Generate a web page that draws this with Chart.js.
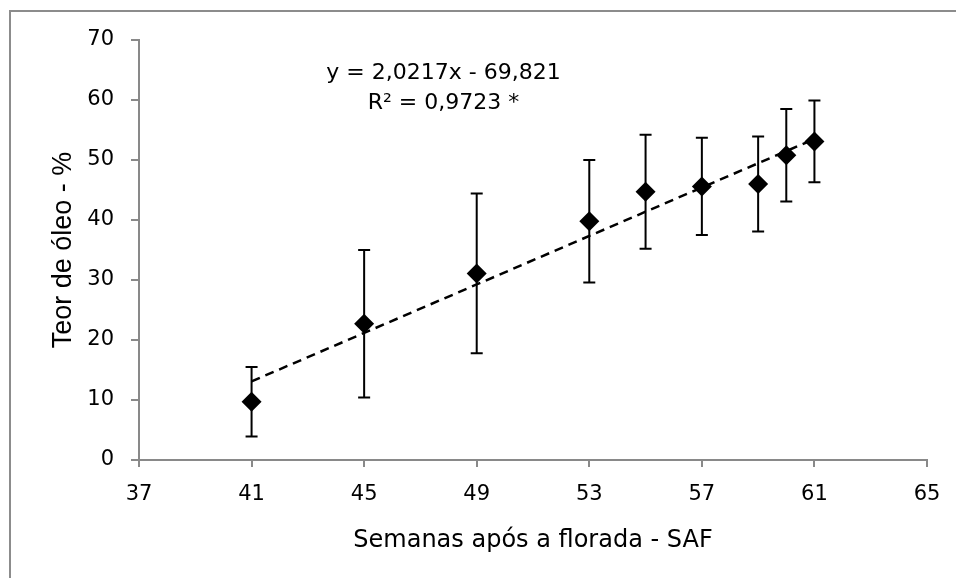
<!DOCTYPE html>
<html>
<head>
<meta charset="utf-8">
<script src="https://cdn.jsdelivr.net/npm/chart.js@4.4.1/dist/chart.umd.min.js"></script>
<style>
  html, body { margin: 0; padding: 0; background: #fff; overflow: hidden; }
  #wrap { position: relative; width: 956px; height: 578px; }
  #frame { position: absolute; left: 9px; top: 10px; width: 960px; height: 580px;
           border-left: 2px solid #8c8c8c; border-top: 2px solid #8c8c8c; }
  canvas { position: absolute; left: 0; top: 0; }
</style>
</head>
<body>
<div id="wrap">
  <div id="frame"></div>
  <canvas id="oleoChart" width="956" height="578"></canvas>
</div>
<script>
// Semanas após a florada (SAF) e teor de óleo medio (%)
const semanas = [41, 45, 49, 53, 55, 57, 59, 60, 61];
const teorOleo = [9.7, 22.7, 31.1, 39.8, 44.7, 45.6, 46.0, 50.8, 53.1];
const desvio = [5.8, 12.3, 13.3, 10.2, 9.5, 8.1, 7.9, 7.7, 6.8];

// Linha de tendencia (extremos)
const tendX = [41, 61];
const tendY = [13.1, 53.5];

// Ticks dos eixos
const xTicks = [37, 41, 45, 49, 53, 57, 61, 65];
const yTicks = [0, 10, 20, 30, 40, 50, 60, 70];

const equacao = ['y = 2,0217x - 69,821', 'R² = 0,9723 *'];

const cinza = '#898989';
const fonteTicks = { family: '"DejaVu Sans", sans-serif', size: 21 };

// Barras de erro desenhadas a partir das escalas do Chart.js
const barrasErro = {
  id: 'barrasErro',
  afterDatasetsDraw(chart) {
    const { ctx, scales: { x, y } } = chart;
    ctx.save();
    ctx.strokeStyle = '#000';
    ctx.lineWidth = 2;
    semanas.forEach((s, i) => {
      const px = x.getPixelForValue(s);
      const top = y.getPixelForValue(teorOleo[i] + desvio[i]);
      const bot = y.getPixelForValue(teorOleo[i] - desvio[i]);
      ctx.beginPath();
      ctx.moveTo(px, top); ctx.lineTo(px, bot);
      ctx.moveTo(px - 6, top); ctx.lineTo(px + 6, top);
      ctx.moveTo(px - 6, bot); ctx.lineTo(px + 6, bot);
      ctx.stroke();
    });
    ctx.restore();
  }
};

// Equacao da regressao
const textoEquacao = {
  id: 'textoEquacao',
  afterDraw(chart) {
    const { ctx, scales: { x, y } } = chart;
    ctx.save();
    ctx.fillStyle = '#000';
    ctx.font = '22px "DejaVu Sans", sans-serif';
    ctx.textAlign = 'center';
    ctx.textBaseline = 'middle';
    ctx.fillText(equacao[0], x.getPixelForValue(47.82), y.getPixelForValue(64.5));
    ctx.fillText(equacao[1], x.getPixelForValue(47.82), y.getPixelForValue(59.5));
    ctx.restore();
  }
};

const ctx = document.getElementById('oleoChart').getContext('2d');
new Chart(ctx, {
  type: 'scatter',
  data: {
    datasets: [
      {
        label: 'Tendencia',
        type: 'line',
        data: tendX.map((v, i) => ({ x: v, y: tendY[i] })),
        borderColor: '#000',
        borderWidth: 2.5,
        borderDash: [9, 6],
        pointRadius: 0,
        fill: false,
        order: 2
      },
      {
        label: 'Teor de óleo',
        data: semanas.map((v, i) => ({ x: v, y: teorOleo[i] })),
        pointStyle: 'rectRot',
        pointRadius: 10,
        pointHoverRadius: 10,
        backgroundColor: '#000',
        borderColor: '#000',
        borderWidth: 0,
        order: 1
      }
    ]
  },
  options: {
    responsive: false,
    animation: false,
    events: [],
    layout: { padding: { top: 40, right: 29, bottom: 0, left: 0 } },
    plugins: {
      legend: { display: false },
      tooltip: { enabled: false }
    },
    scales: {
      x: {
        type: 'linear',
        min: 37,
        max: 65,
        afterBuildTicks: s => { s.ticks = xTicks.map(v => ({ value: v })); },
        afterFit: s => { s.height = 118; },
        border: { display: true, color: cinza, width: 2 },
        grid: { drawOnChartArea: false, drawTicks: true, tickLength: 7, color: cinza, lineWidth: 2 },
        ticks: { color: '#000', font: fonteTicks, padding: 15, maxRotation: 0 },
        title: {
          display: true,
          text: 'Semanas após a florada - SAF',
          color: '#000',
          font: { family: '"DejaVu Sans", sans-serif', size: 24 },
          padding: { top: 0, bottom: 23 }
        }
      },
      y: {
        min: 0,
        max: 70,
        afterBuildTicks: s => { s.ticks = yTicks.map(v => ({ value: v })); },
        afterFit: s => { s.width = 139; },
        border: { display: true, color: cinza, width: 2 },
        grid: { drawOnChartArea: false, drawTicks: true, tickLength: 8, color: cinza, lineWidth: 2 },
        ticks: { color: '#000', font: fonteTicks, padding: 17 },
        title: {
          display: true,
          text: 'Teor de óleo - %',
          color: '#000',
          font: { family: '"Liberation Sans", sans-serif', size: 27 },
          padding: { top: 47, bottom: 0 }
        }
      }
    }
  },
  plugins: [barrasErro, textoEquacao]
});
</script>
</body>
</html>
